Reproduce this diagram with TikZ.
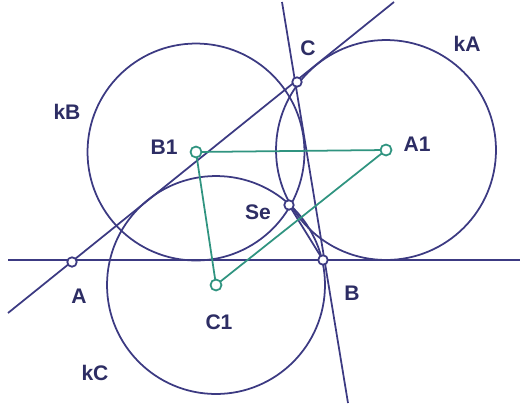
\documentclass[tikz,border=0pt]{standalone}
\usepackage{fontspec}
\setmainfont{Liberation Sans}
\definecolor{navy}{RGB}{60,58,130}
\definecolor{tealgrn}{RGB}{48,148,128}
\definecolor{labelblue}{RGB}{45,45,100}
\begin{document}
\begin{tikzpicture}[x=0.02cm, y=-0.02cm,
    line/.style={navy, line width=1pt},
    side/.style={tealgrn, line width=1pt},
    pt/.style={circle, draw=navy, fill=white, line width=1pt, inner sep=0pt, minimum size=0.19cm},
    ctr/.style={circle, draw=tealgrn, fill=white, line width=1pt, inner sep=0pt, minimum size=0.22cm},
    lbl/.style={labelblue, font=\bfseries\large}]
    \useasboundingbox (0,0) rectangle (520,403);
    % free ends of the three lines
    \coordinate (abL) at (8,260);
    \coordinate (abR) at (520,260);
    \coordinate (acL) at (8,313);
    \coordinate (acR) at (394,2);
    \coordinate (cbT) at (282,2);
    \coordinate (cbB) at (348,403);
    % points
    \path (72,262) coordinate (pA) (323,260) coordinate (pB) (297,82) coordinate (pC)
        (289,205) coordinate (pSe) (386,150) coordinate (pA1) (196,152) coordinate (pB1)
        (216,285) coordinate (pC1);
    \draw[line] (abL) -- (abR);
    \draw[line] (acL) -- (acR);
    \draw[line] (cbT) -- (cbB);
    \draw[line] (pA1) circle[radius=2.2cm];
    \draw[line] (pB1) circle[radius=2.17cm];
    \draw[line] (pC1) circle[radius=2.18cm];
    \draw[line] (pSe) -- (pB);
    \draw[side] (pA1) -- (pB1) -- (pC1) -- cycle;
    \node[pt] (A) at (pA) {};
    \node[pt] (B) at (pB) {};
    \node[pt] (C) at (pC) {};
    \node[pt] (Se) at (pSe) {};
    \node[ctr] (A1) at (pA1) {};
    \node[ctr] (B1) at (pB1) {};
    \node[ctr] (C1) at (pC1) {};
    % labels
    \node[lbl] (lA) at (79,296) {A};
    \node[lbl] (lB) at (352,293) {B};
    \node[lbl] (lC) at (308,48) {C};
    \node[lbl] (lSe) at (258,212) {Se};
    \node[lbl] (lA1) at (417,144) {A1};
    \node[lbl] (lB1) at (164,147) {B1};
    \node[lbl] (lC1) at (219,322) {C1};
    \node[lbl] (lkA) at (467,44) {kA};
    \node[lbl] (lkB) at (67,112) {kB};
    \node[lbl] (lkC) at (95,373) {kC};
\end{tikzpicture}
\end{document}
